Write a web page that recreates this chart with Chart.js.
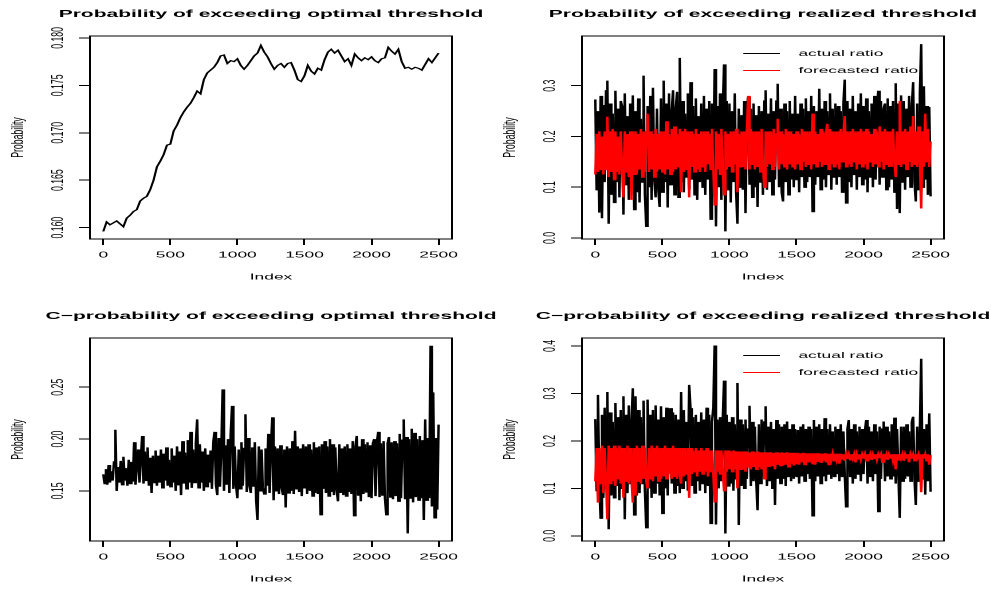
<!DOCTYPE html>
<html><head><meta charset="utf-8">
<script src="https://cdn.jsdelivr.net/npm/chart.js@4.4.1/dist/chart.umd.min.js"></script>
<style>
html,body{margin:0;padding:0;background:#fff;overflow:hidden;width:991px;height:590px}
#stage{position:absolute;left:0;top:0;width:495.5px;height:590px;transform:scaleX(2);transform-origin:0 0;overflow:hidden;background:#fff}
.panel{position:absolute;width:271px;height:302px}
</style></head><body>
<div id="stage">
<div class="panel" style="left:0;top:-7px"><canvas id="c1"></canvas></div>
<div class="panel" style="left:245.5px;top:-7px"><canvas id="c2"></canvas></div>
<div class="panel" style="left:0;top:295px"><canvas id="c3"></canvas></div>
<div class="panel" style="left:245.5px;top:295px"><canvas id="c4"></canvas></div>
</div>
<script>
// ---------- data ----------
const SMOOTH_STEP = 25;   // index spacing of optProb samples
const NOISY_STEP = 10;    // index spacing of the other series

const xTickValues = [0, 500, 1000, 1500, 2000, 2500];
const xTickLabels = ['0', '500', '1000', '1500', '2000', '2500'];

const optTickValues = [0.160, 0.165, 0.170, 0.175, 0.180];
const optTickLabels = ['0.160', '0.165', '0.170', '0.175', '0.180'];
const realTickValues = [0.0, 0.1, 0.2, 0.3];
const realTickLabels = ['0.0', '0.1', '0.2', '0.3'];
const cOptTickValues = [0.15, 0.20, 0.25];
const cOptTickLabels = ['0.15', '0.20', '0.25'];
const cRealTickValues = [0.0, 0.1, 0.2, 0.3, 0.4];
const cRealTickLabels = ['0.0', '0.1', '0.2', '0.3', '0.4'];

const titles = [
  'Probability of exceeding optimal threshold',
  'Probability of exceeding realized threshold',
  'C\u2212probability of exceeding optimal threshold',
  'C\u2212probability of exceeding realized threshold'
];
const seriesNames = ['actual ratio', 'forecasted ratio'];

const optProb = [
 .1596,.1606,.1603,.1605,.1607,.1604,.1601,.1610,.1613,.1617,
 .1619,.1628,.1631,.1633,.1640,.1650,.1664,.1670,.1677,.1687,
 .1688,.1702,.1708,.1716,.1722,.1727,.1731,.1737,.1744,.1741,
 .1756,.1763,.1766,.1769,.1774,.1781,.1782,.1773,.1776,.1775,
 .1778,.1771,.1767,.1771,.1776,.1781,.1784,.1792,.1785,.1780,
 .1773,.1767,.1771,.1773,.1769,.1773,.1774,.1766,.1756,.1754,
 .1760,.1771,.1765,.1762,.1768,.1766,.1777,.1785,.1788,.1784,
 .1787,.1781,.1775,.1778,.1771,.1783,.1779,.1776,.1779,.1777,
 .1780,.1776,.1774,.1778,.1779,.1790,.1786,.1783,.1788,.1775,
 .1768,.1769,.1767,.1769,.1768,.1766,.1772,.1778,.1774,.1779,
 .1784];

const realActual = [
 .273,.095,.250,.050,.280,.039,.262,.110,.290,.310,
 .028,.265,.085,.245,.070,.290,.110,.255,.080,.270,
 .260,.046,.285,.105,.240,.075,.265,.120,.281,.056,
 .250,.090,.275,.070,.235,.110,.320,.085,.023,.260,
 .100,.280,.075,.296,.115,.080,.255,.095,.061,.275,
 .090,.310,.110,.265,.060,.285,.105,.250,.291,.085,
 .255,.288,.080,.355,.110,.270,.090,.245,.120,.285,
 .095,.307,.115,.260,.085,.275,.075,.240,.110,.265,
 .100,.280,.085,.255,.115,.270,.037,.265,.090,.333,
 .023,.260,.100,.285,.075,.245,.342,.013,.270,.095,
 .265,.070,.250,.110,.285,.090,.028,.255,.100,.242,
 .095,.270,.049,.250,.278,.105,.255,.080,.265,.100,
 .242,.061,.260,.110,.250,.085,.270,.291,.095,.245,
 .110,.275,.085,.250,.115,.270,.304,.100,.255,.090,
 .072,.265,.110,.250,.085,.270,.115,.245,.100,.280,
 .115,.245,.090,.265,.120,.255,.100,.275,.110,.250,
 .120,.280,.052,.260,.105,.250,.120,.294,.095,.255,
 .115,.270,.100,.250,.125,.285,.095,.255,.120,.265,
 .105,.260,.120,.250,.090,.265,.312,.069,.270,.110,
 .255,.100,.280,.125,.250,.095,.265,.120,.285,.105,
 .260,.115,.275,.090,.250,.120,.265,.100,.280,.115,
 .255,.290,.105,.270,.120,.255,.265,.095,.275,.100,
 .260,.115,.270,.090,.305,.057,.265,.049,.281,.110,
 .270,.095,.255,.120,.280,.100,.260,.307,.110,.072,
 .265,.095,.285,.382,.100,.299,.115,.260,.085,.258,
 .082];

const realForecast = [
 .125,.205,.130,.210,.135,.200,.125,.210,.135,.239,
 .120,.210,.130,.215,.115,.210,.130,.200,.125,.210,
 .135,.080,.210,.130,.205,.120,.210,.075,.210,.125,
 .210,.125,.205,.135,.215,.120,.210,.130,.210,.245,
 .130,.210,.135,.205,.120,.215,.130,.205,.135,.210,
 .130,.210,.125,.230,.135,.205,.125,.215,.130,.220,
 .135,.205,.140,.215,.090,.210,.130,.215,.135,.210,
 .080,.210,.140,.205,.130,.215,.135,.205,.130,.210,
 .140,.210,.130,.210,.145,.205,.135,.215,.135,.065,
 .210,.135,.205,.125,.215,.140,.085,.210,.135,.205,
 .140,.210,.130,.210,.145,.215,.090,.205,.140,.210,
 .140,.210,.135,.210,.280,.135,.215,.145,.210,.135,
 .210,.140,.210,.130,.215,.145,.100,.210,.140,.210,
 .145,.210,.135,.215,.140,.205,.235,.135,.210,.145,
 .205,.140,.215,.135,.210,.145,.210,.140,.205,.135,
 .210,.145,.205,.135,.215,.150,.210,.140,.210,.145,
 .210,.135,.245,.145,.210,.140,.205,.150,.215,.140,
 .210,.145,.205,.225,.135,.215,.145,.210,.140,.210,
 .145,.210,.135,.215,.150,.205,.240,.140,.210,.145,
 .210,.140,.215,.150,.210,.135,.210,.145,.215,.140,
 .210,.145,.215,.135,.210,.150,.205,.140,.215,.145,
 .210,.140,.220,.150,.210,.135,.215,.145,.210,.140,
 .210,.140,.215,.150,.120,.210,.145,.270,.140,.210,
 .145,.215,.135,.210,.150,.220,.140,.240,.145,.210,
 .140,.220,.150,.058,.210,.140,.245,.150,.215,.140,
 .190];

const cOptProb = [
 .166,.157,.171,.156,.175,.158,.169,.160,.178,.209,
 .150,.173,.158,.179,.156,.183,.160,.172,.155,.180,
 .157,.178,.159,.197,.156,.174,.190,.158,.181,.203,
 .157,.188,.160,.192,.155,.182,.148,.184,.158,.189,
 .155,.184,.158,.190,.153,.186,.160,.192,.155,.180,
 .154,.191,.158,.184,.150,.193,.156,.188,.146,.198,
 .157,.187,.152,.199,.158,.207,.153,.190,.158,.196,
 .219,.153,.195,.158,.188,.150,.191,.154,.185,.158,
 .189,.152,.197,.207,.156,.146,.201,.154,.190,.248,
 .150,.194,.156,.200,.148,.205,.232,.152,.193,.155,
 .143,.190,.152,.197,.155,.191,.224,.149,.201,.155,
 .148,.192,.154,.197,.140,.122,.193,.150,.190,.153,
 .147,.191,.155,.205,.148,.192,.221,.141,.193,.150,
 .191,.147,.194,.153,.146,.190,.134,.193,.148,.191,
 .150,.198,.147,.208,.152,.193,.149,.191,.145,.195,
 .153,.193,.147,.195,.150,.190,.145,.197,.148,.192,
 .147,.193,.127,.195,.152,.198,.148,.193,.145,.200,
 .149,.195,.146,.192,.151,.140,.195,.148,.191,.146,
 .193,.145,.195,.149,.191,.147,.198,.126,.193,.203,
 .146,.193,.140,.200,.147,.195,.149,.197,.144,.194,
 .143,.196,.200,.145,.197,.207,.144,.196,.146,.198,
 .143,.127,.196,.202,.144,.197,.142,.198,.145,.196,
 .140,.205,.143,.199,.219,.142,.202,.109,.200,.143,
 .210,.139,.206,.144,.200,.141,.203,.143,.199,.122,
 .219,.141,.201,.143,.290,.135,.245,.124,.201,.132,
 .214];

const cRealActual = [
 .246,.095,.297,.110,.037,.255,.080,.270,.100,.303,
 .014,.260,.085,.240,.080,.280,.105,.250,.075,.265,
 .100,.294,.035,.255,.090,.275,.110,.240,.311,.044,
 .294,.085,.265,.090,.250,.110,.285,.095,.017,.287,
 .100,.255,.080,.265,.090,.275,.110,.245,.085,.273,
 .047,.250,.100,.270,.085,.245,.269,.110,.260,.090,
 .255,.105,.245,.090,.303,.100,.265,.115,.240,.095,
 .318,.269,.105,.250,.090,.255,.115,.240,.095,.260,
 .110,.245,.090,.270,.105,.255,.026,.240,.270,.401,
 .024,.245,.100,.250,.115,.240,.327,.005,.255,.105,
 .240,.110,.250,.095,.235,.120,.322,.023,.245,.105,
 .235,.100,.245,.120,.225,.274,.105,.240,.115,.230,
 .115,.054,.235,.110,.245,.125,.240,.273,.105,.230,
 .115,.240,.100,.225,.065,.244,.120,.235,.110,.230,
 .120,.235,.105,.241,.125,.225,.115,.235,.120,.225,
 .125,.223,.110,.230,.125,.235,.115,.225,.130,.230,
 .120,.225,.042,.244,.115,.230,.125,.235,.110,.225,
 .125,.248,.115,.225,.130,.235,.120,.220,.125,.230,
 .130,.225,.115,.235,.125,.220,.130,.061,.225,.244,
 .125,.225,.110,.235,.120,.220,.130,.230,.115,.225,
 .130,.220,.244,.110,.230,.125,.220,.115,.235,.130,
 .220,.051,.230,.120,.225,.241,.115,.230,.125,.220,
 .120,.235,.125,.249,.110,.225,.130,.038,.230,.115,
 .230,.120,.235,.125,.220,.115,.240,.251,.120,.065,
 .230,.115,.225,.373,.120,.225,.087,.235,.115,.258,
 .093];

const cRealForecast = [
 .115,.185,.070,.185,.110,.190,.090,.185,.115,.035,
 .190,.110,.185,.115,.190,.105,.185,.120,.190,.110,
 .185,.080,.185,.115,.190,.110,.185,.120,.070,.185,
 .085,.190,.115,.185,.110,.190,.120,.185,.115,.100,
 .185,.120,.190,.115,.185,.125,.190,.115,.185,.120,
 .185,.125,.190,.120,.185,.130,.185,.120,.190,.125,
 .185,.120,.185,.130,.110,.185,.125,.185,.130,.185,
 .080,.185,.130,.180,.135,.185,.125,.180,.135,.185,
 .130,.180,.135,.185,.125,.180,.135,.180,.130,.072,
 .180,.135,.180,.130,.180,.140,.095,.180,.135,.180,
 .140,.178,.135,.180,.140,.178,.100,.178,.140,.178,
 .140,.178,.135,.178,.145,.176,.140,.178,.145,.176,
 .140,.178,.145,.176,.140,.176,.120,.176,.145,.176,
 .145,.176,.148,.175,.140,.176,.150,.175,.148,.176,
 .148,.175,.150,.176,.145,.175,.152,.175,.148,.175,
 .152,.175,.150,.174,.155,.175,.150,.174,.155,.174,
 .155,.174,.152,.174,.150,.174,.156,.174,.155,.173,
 .158,.174,.155,.173,.150,.173,.160,.173,.158,.173,
 .160,.173,.152,.173,.162,.172,.158,.173,.162,.172,
 .160,.172,.163,.172,.155,.172,.162,.172,.160,.172,
 .163,.172,.158,.172,.163,.172,.160,.172,.163,.172,
 .160,.172,.164,.172,.155,.172,.163,.172,.160,.172,
 .164,.172,.158,.172,.140,.172,.160,.172,.163,.172,
 .158,.172,.164,.172,.155,.172,.163,.172,.158,.172,
 .164,.172,.158,.092,.172,.163,.172,.158,.172,.150,
 .170];

// ---------- rendering ----------
const FONT = '"Liberation Sans", Arial, Helvetica, sans-serif';
const TICK_SIZE = 8.7;
const TITLE_SIZE = 10.5;
const NOISY_WIDTH = 1.25;
const toPoints = (vals, step) => vals.map((v, i) => ({x: i * step, y: v}));

const mctx = document.createElement('canvas').getContext('2d');
function yTickPad(labels) {
  mctx.font = TICK_SIZE + 'px ' + FONT;
  const w = Math.max(...labels.map(l => mctx.measureText(l).width));
  return 16 - 5.5 - w / 2;
}

const boxPlugin = {
  id: 'rbox',
  afterDatasetsDraw(chart) {
    const {ctx, chartArea: a} = chart;
    ctx.save();
    ctx.strokeStyle = '#000';
    ctx.lineWidth = 1;
    ctx.strokeRect(a.left, a.top, a.right - a.left, a.bottom - a.top);
    ctx.restore();
  }
};
const legendPlugin = {
  id: 'rlegend',
  afterDatasetsDraw(chart, args, opts) {
    if (!opts || !opts.show) return;
    const {ctx, chartArea: a} = chart;
    ctx.save();
    ctx.font = TICK_SIZE + 'px ' + FONT;
    ctx.textBaseline = 'middle';
    ctx.textAlign = 'left';
    chart.data.datasets.forEach((ds, i) => {
      const y = a.top + opts.rows[i];
      ctx.strokeStyle = ds.borderColor;
      ctx.lineWidth = 1;
      ctx.beginPath();
      ctx.moveTo(a.left + 80.6, y);
      ctx.lineTo(a.left + 99, y);
      ctx.stroke();
      ctx.fillStyle = '#000';
      ctx.fillText(ds.label, a.left + 108.2, y);
    });
    ctx.restore();
  }
};

function makeChart(id, title, yMin, yMax, yTicks, yLabels, datasets, legendRows) {
  return new Chart(document.getElementById(id), {
    type: 'line',
    data: {datasets},
    plugins: [boxPlugin, legendPlugin],
    options: {
      responsive: true,
      maintainAspectRatio: false,
      devicePixelRatio: 2,
      animation: false,
      events: [],
      layout: {padding: 0},
      elements: {point: {radius: 0}, line: {tension: 0, borderWidth: NOISY_WIDTH}},
      plugins: {
        legend: {display: false},
        tooltip: {enabled: false},
        title: {display: true, text: title, color: '#000',
          font: {family: FONT, size: TITLE_SIZE, weight: 'bold'},
          padding: {top: 14.7, bottom: 15.7}},
        rlegend: {show: !!legendRows, rows: legendRows || []}
      },
      scales: {
        x: {
          type: 'linear', min: -99, max: 2600, bounds: 'data',
          afterBuildTicks: s => { s.ticks = xTickValues.map(v => ({value: v})); },
          afterFit: s => { s.height = 56; },
          grid: {display: true, drawOnChartArea: false, drawTicks: true, tickLength: 6, color: '#000', lineWidth: 1},
          border: {display: false},
          ticks: {autoSkip: false, maxRotation: 0, minRotation: 0, padding: 4.8, color: '#000',
            font: {family: FONT, size: TICK_SIZE},
            callback: (v, i) => xTickLabels[i]},
          title: {display: true, text: 'Index', color: '#000',
            font: {family: FONT, size: TICK_SIZE}, padding: {top: 0, bottom: 12.8}}
        },
        y: {
          type: 'linear', min: yMin, max: yMax, bounds: 'data',
          afterBuildTicks: s => { s.ticks = yTicks.map(v => ({value: v})); },
          afterFit: s => { s.width = 45; },
          grid: {display: true, drawOnChartArea: false, drawTicks: true, tickLength: 5.5, color: '#000', lineWidth: 1},
          border: {display: false},
          ticks: {autoSkip: false, minRotation: 90, maxRotation: 90, crossAlign: 'center',
            padding: yTickPad(yLabels), color: '#000',
            font: {family: FONT, size: TICK_SIZE},
            callback: (v, i) => yLabels[i]},
          title: {display: true, text: 'Probability', color: '#000',
            font: {family: FONT, size: TICK_SIZE}, padding: {top: 3.7, bottom: 0}}
        },
        yRight: {
          type: 'linear', axis: 'y', position: 'right', display: true,
          afterFit: s => { s.width = 45; },
          grid: {display: false}, border: {display: false}, ticks: {display: false}
        }
      }
    }
  });
}

makeChart('c1', titles[0], 0.1588, 0.1802, optTickValues, optTickLabels, [
  {label: 'probability', data: toPoints(optProb, SMOOTH_STEP), borderColor: '#000', borderWidth: 1.1}
], null);

makeChart('c2', titles[1], -0.002, 0.398, realTickValues, realTickLabels, [
  {label: seriesNames[0], data: toPoints(realActual, NOISY_STEP), borderColor: '#000', order: 1},
  {label: seriesNames[1], data: toPoints(realForecast, NOISY_STEP), borderColor: '#ff0000', order: 0}
], [17.5, 34.5]);

makeChart('c3', titles[2], 0.1017, 0.2975, cOptTickValues, cOptTickLabels, [
  {label: 'probability', data: toPoints(cOptProb, NOISY_STEP), borderColor: '#000'}
], null);

makeChart('c4', titles[3], -0.0108, 0.4168, cRealTickValues, cRealTickLabels, [
  {label: seriesNames[0], data: toPoints(cRealActual, NOISY_STEP), borderColor: '#000', order: 1},
  {label: seriesNames[1], data: toPoints(cRealForecast, NOISY_STEP), borderColor: '#ff0000', order: 0}
], [17.5, 34.5]);
</script>
</body></html>
